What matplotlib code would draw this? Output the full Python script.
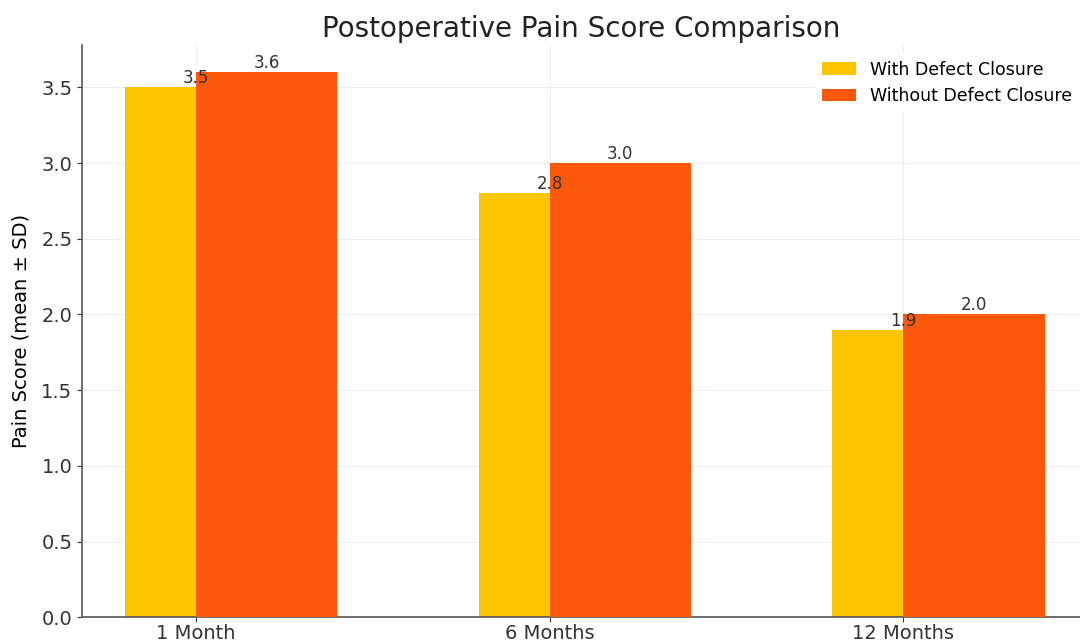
import numpy as np
import matplotlib.pyplot as plt

categories = ['1 Month', '6 Months', '12 Months']
with_closure = [3.5, 2.8, 1.9]
without_closure = [3.6, 3.0, 2.0]

fig = plt.figure(figsize=(10.8, 6.43), dpi=100)
ax = fig.add_axes([0.076, 0.04, 0.924, 0.89])

x = np.arange(len(categories))
width = 0.4

bars1 = ax.bar(x, with_closure, width, label='With Defect Closure', color='#FDC500', zorder=2)
bars2 = ax.bar(x + width / 2, without_closure, width, label='Without Defect Closure',
               color='#FC580C', zorder=3)

for bars in (bars1, bars2):
    for bar in bars:
        h = bar.get_height()
        ax.text(bar.get_x() + bar.get_width() / 2, h, f'{h:.1f}', ha='center', va='bottom',
                fontsize=12, color='#333333', zorder=4)

ax.set_xticks(x)
ax.set_xticklabels(categories)
ax.tick_params(axis='x', labelsize=14, pad=1.5)
ax.tick_params(axis='y', labelsize=14)
ax.set_xlim(-0.322, 2.5)
ax.set_ylim(0, 3.78)
ax.set_ylabel('Pain Score (mean ± SD)', fontsize=14, labelpad=8)
ax.set_title('Postoperative Pain Score Comparison', fontsize=20, color='#222222', pad=6)

ax.grid(True, color='#EEEEEE', linewidth=0.8, zorder=0)
ax.set_axisbelow(True)
for side in ['top', 'right']:
    ax.spines[side].set_visible(False)
for side in ['left', 'bottom']:
    ax.spines[side].set_color('#555555')
    ax.spines[side].set_linewidth(1.2)
ax.tick_params(colors='#333333')

ax.legend(loc='upper right', bbox_to_anchor=(1.008, 1.0), fontsize=12.5, frameon=True,
          framealpha=1.0, edgecolor='white')

fig.savefig('out.png', dpi=100)
